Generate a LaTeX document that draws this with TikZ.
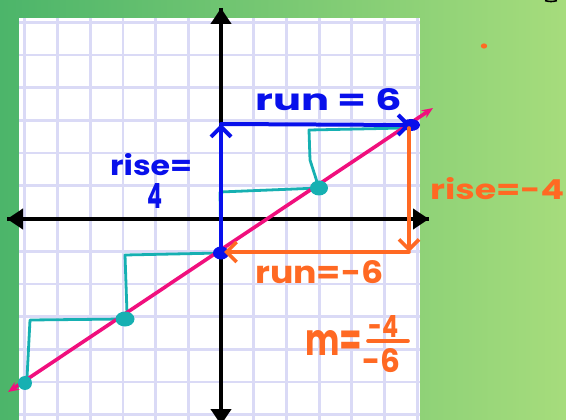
\documentclass[tikz,border=0pt]{standalone}
\usepackage{fontspec}
\setmainfont{Poppins}
\usepackage{graphicx}
\usetikzlibrary{arrows.meta}
\definecolor{hblue}{RGB}{8,16,235}
\definecolor{horange}{RGB}{255,105,35}
\definecolor{hpink}{RGB}{240,15,125}
\definecolor{hteal}{RGB}{22,176,178}
\definecolor{hgrid}{RGB}{218,218,246}
\definecolor{bgleft}{RGB}{76,181,106}
\definecolor{bgright}{RGB}{166,220,124}
\tikzset{
  hw/.style={line cap=round,line join=round},
  axis/.style={line width=4pt,-{Triangle[length=16pt,width=20pt]}},
  bluestroke/.style={hw,draw=hblue,line width=4pt},
  orangestroke/.style={hw,draw=horange,line width=3.6pt},
  tealstroke/.style={hw,draw=hteal,line width=2.8pt},
  chev/.style={-{Straight Barb[length=10pt,width=20pt]}},
  lbl/.style={anchor=north west,inner sep=0pt,font=\bfseries},
  gridline/.style={draw=hgrid,line width=2.8pt}
}
\begin{document}
\begin{tikzpicture}[x=1pt,y=-1pt]
\useasboundingbox (0,0) rectangle (566,420);
% background
\shade[left color=bgleft,right color=bgright] (0,0) rectangle (566,420);
\fill[white] (19,18) rectangle (420,420);
\begin{scope}
\clip (19,18) rectangle (420,420);
\foreach \k in {-6,...,6}{
  \draw[gridline] ({221+32.7*\k},18) -- ({221+32.7*\k},420);
  \draw[gridline] (19,{218.5+32.7*\k}) -- (420,{218.5+32.7*\k});
}
\end{scope}
% small marks on the background
\fill[horange] (484,46) ellipse (3.2pt and 2.6pt);
\draw[line width=1.6pt] (545,0.6) to[bend right=15] (557,0.6);
% coordinates
\coordinate (ytop) at (221,8);
\coordinate (ybot) at (221,425);
\coordinate (xl) at (7,219);
\coordinate (xr) at (429,219);
\coordinate (L1) at (8,392);
\coordinate (L2) at (433,108);
\coordinate (O) at (221,253);
\coordinate (B) at (221,124);
\coordinate (R) at (411,125);
\coordinate (Rtop) at (409,128);
\coordinate (C) at (409,252);
\coordinate (Oo) at (224,252);
\coordinate (P1) at (319,188);
\coordinate (P2) at (125,319);
\coordinate (P3) at (25,383);
\coordinate (t1) at (220,192);
\coordinate (t2) at (310,160);
\coordinate (t3) at (309,130);
\coordinate (t4) at (405,128);
\coordinate (t5) at (125,255);
\coordinate (t6) at (127,313);
\coordinate (t7) at (30,320);
\coordinate (t8) at (27,378);
% axes
\draw[axis] (ybot) -- (ytop);
\draw[axis] (ytop) -- (ybot);
\draw[axis] (xr) -- (xl);
\draw[axis] (xl) -- (xr);
% teal steps
\draw[tealstroke] (O) -- (t1) -- (P1);
\draw[tealstroke] (P1) -- (t2) -- (t3) -- (t4);
\draw[tealstroke] (O) -- (t5) -- (t6) -- (P2);
\draw[tealstroke] (P2) -- (t7) -- (t8) -- (P3);
% pink line
\draw[hpink,line width=3.6pt,{Stealth[length=11pt,width=9pt]}-{Stealth[length=11pt,width=9pt]}] (L1) -- (L2);
% teal dots
\fill[hteal] (P1) ellipse (9pt and 7.5pt);
\fill[hteal] (P2) ellipse (9.5pt and 7.5pt);
\fill[hteal] (P3) ellipse (7pt and 7pt);
% blue rise / run
\draw[bluestroke,chev] (O) -- (B);
\draw[bluestroke,chev] (B) -- (R);
\fill[hblue] (O) ellipse (8pt and 6.5pt);
\fill[hblue] (R) ellipse (9pt and 6pt);
% orange rise / run
\draw[orangestroke,chev] (Rtop) -- (C);
\draw[orangestroke,chev] (C) -- (Oo);
% labels
\node[lbl,text=hblue] (runpos) at (255,88) {\resizebox{147pt}{22pt}{run = 6}};
\node[lbl,text=hblue] (risepos) at (110,153) {\resizebox{82pt}{22pt}{rise=}};
\node[lbl,text=hblue] (fourpos) at (147,183) {\resizebox{15pt}{25pt}{4}};
\node[lbl,text=horange] (riseneg) at (430,177) {\resizebox{134pt}{22pt}{rise=-4}};
\node[lbl,text=horange] (runneg) at (255,260) {\resizebox{128pt}{23pt}{run=-6}};
\node[lbl,text=horange] (mlab) at (305,330) {\resizebox{57pt}{25pt}{m=}};
\node[lbl,text=horange] (num) at (368,315) {\resizebox{30pt}{22pt}{-4}};
\node[lbl,text=horange] (den) at (362,348) {\resizebox{38pt}{24pt}{-6}};
\coordinate (barl) at (368,341);
\coordinate (barr) at (408,341);
\draw[orangestroke] (barl) -- (barr);
\end{tikzpicture}
\end{document}
